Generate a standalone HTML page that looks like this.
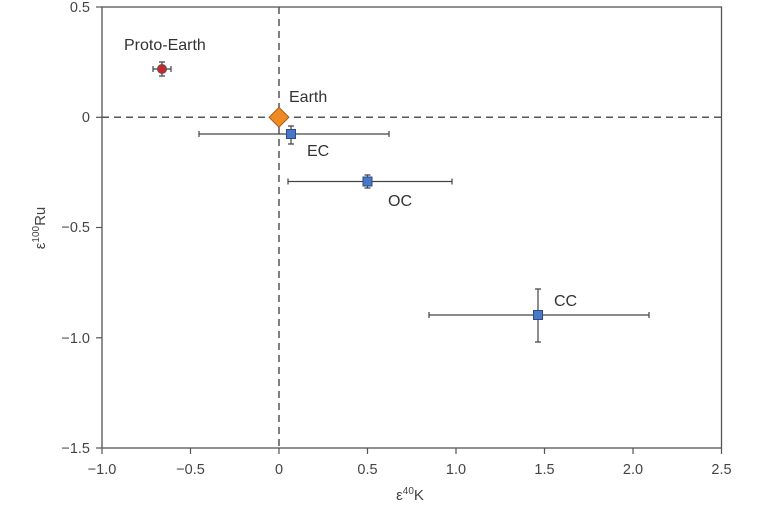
<!DOCTYPE html><html><head><style>body{margin:0;background:#fff}</style></head><body>
<svg width="760" height="503" xmlns="http://www.w3.org/2000/svg" font-family="Liberation Sans, sans-serif" fill="#333">
<rect x="102" y="7" width="619.5" height="441" fill="none" stroke="#555" stroke-width="1.3"/>
<g stroke="#555" stroke-width="1.2">
<line x1="96" y1="7" x2="102" y2="7"/><line x1="96" y1="117.3" x2="102" y2="117.3"/><line x1="96" y1="227.5" x2="102" y2="227.5"/><line x1="96" y1="337.8" x2="102" y2="337.8"/><line x1="96" y1="448" x2="102" y2="448"/>
<line x1="102" y1="448" x2="102" y2="454"/><line x1="190.5" y1="448" x2="190.5" y2="454"/><line x1="279" y1="448" x2="279" y2="454"/><line x1="367.5" y1="448" x2="367.5" y2="454"/><line x1="456" y1="448" x2="456" y2="454"/><line x1="544.5" y1="448" x2="544.5" y2="454"/><line x1="633" y1="448" x2="633" y2="454"/><line x1="721.5" y1="448" x2="721.5" y2="454"/>
</g>
<g font-size="14.5" text-anchor="end" fill="#444">
<text x="90" y="12">0.5</text><text x="90" y="122">0</text><text x="90" y="232">−0.5</text><text x="90" y="343">−1.0</text><text x="90" y="453">−1.5</text>
</g>
<g font-size="14.5" text-anchor="middle" fill="#444">
<text x="102" y="474">−1.0</text><text x="190.5" y="474">−0.5</text><text x="279" y="474">0</text><text x="367.5" y="474">0.5</text><text x="456" y="474">1.0</text><text x="544.5" y="474">1.5</text><text x="633" y="474">2.0</text><text x="721.5" y="474">2.5</text>
</g>
<text x="410" y="500" font-size="15" text-anchor="middle" fill="#444">ε<tspan font-size="10" dy="-6">40</tspan><tspan dy="6">K</tspan></text>
<text transform="translate(45,228) rotate(-90)" font-size="15" text-anchor="middle" fill="#444">ε<tspan font-size="10" dy="-6">100</tspan><tspan dy="6">Ru</tspan></text>
<g stroke="#555" stroke-width="1.5" stroke-dasharray="7,5">
<line x1="279" y1="7" x2="279" y2="448"/><line x1="102" y1="117.3" x2="721.5" y2="117.3"/>
</g>
<g stroke="#444" stroke-width="1.2" fill="none">
<path d="M153 69H171M153 66V72M171 66V72M162 62V76M159 62H165M159 76H165"/>
<path d="M199 134H389M199 131V137M389 131V137M291 126V144M288 126H294M288 144H294"/>
<path d="M288 181.5H452M288 178.5V184.5M452 178.5V184.5M367.5 175V188M364.5 175H370.5M364.5 188H370.5"/>
<path d="M429 315H649M429 312V318M649 312V318M538 289V342M535 289H541M535 342H541"/>
</g>
<circle cx="162" cy="69" r="4.5" fill="#c8282a" stroke="#555" stroke-width="1"/>
<rect x="272" y="110.3" width="14" height="14" transform="rotate(45 279 117.3)" fill="#f08a24" stroke="#a85a10" stroke-width="1"/>
<rect x="286.5" y="129.5" width="9" height="9" fill="#4a78c8" stroke="#2c4c88" stroke-width="1"/>
<rect x="363" y="177" width="9" height="9" fill="#4a78c8" stroke="#2c4c88" stroke-width="1"/>
<rect x="533.5" y="310.5" width="9" height="9" fill="#4a78c8" stroke="#2c4c88" stroke-width="1"/>
<g font-size="16" fill="#333">
<text x="124" y="50">Proto-Earth</text><text x="289" y="102">Earth</text><text x="307" y="156">EC</text><text x="388" y="206">OC</text><text x="554" y="306">CC</text>
</g>
</svg></body></html>
